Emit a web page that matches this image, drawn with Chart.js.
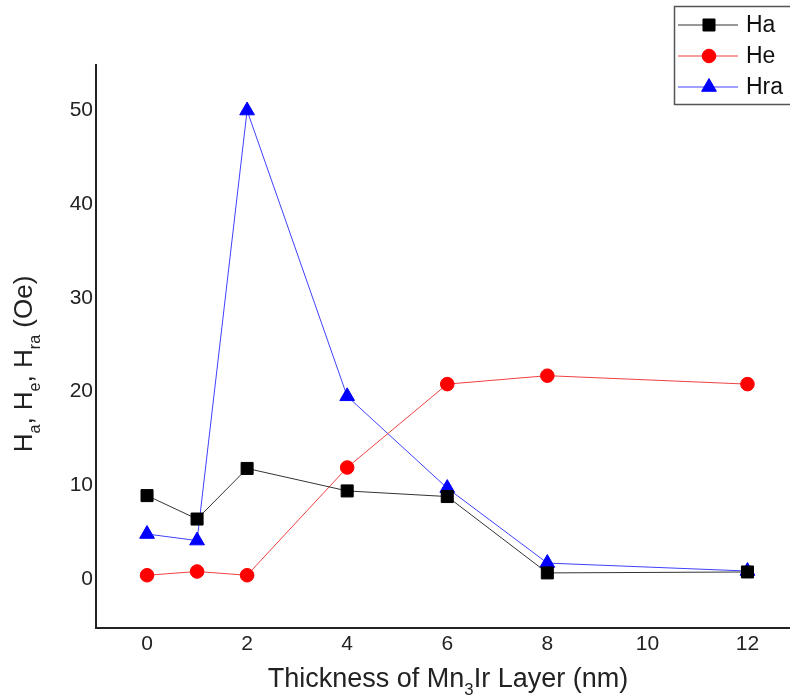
<!DOCTYPE html>
<html>
<head>
<meta charset="utf-8">
<script src="https://cdn.jsdelivr.net/npm/chart.js@4/dist/chart.umd.min.js"></script>
<style>
  html, body { margin: 0; padding: 0; background: #fff; }
  #wrap { width: 790px; height: 698px; position: relative; }
</style>
</head>
<body>
<div id="wrap"><canvas id="chart"></canvas></div>
<script>
// Mn3Ir thickness (nm) and the three fields (Oe)
const thickness = [0, 1, 2, 4, 6, 8, 12];
const haValues  = [8.9, 6.4, 11.8, 9.4, 8.8, 0.65, 0.75];
const heValues  = [0.4, 0.8, 0.4, 11.9, 20.8, 21.7, 20.8];
const hraValues = [4.8, 4.1, 50, 19.5, 9.7, 1.7, 0.85];

const xTicks = [0, 2, 4, 6, 8, 10, 12];
const yTicks = [0, 10, 20, 30, 40, 50];

const FONT = '"Liberation Sans", Arial, sans-serif';

const series = [
  { label: 'Ha',  values: haValues,  color: '#000000', line: '#333333', style: 'rect',     radius: 8.5 },
  { label: 'He',  values: heValues,  color: '#ff0000', line: '#f04040', style: 'circle',   radius: 6.8 },
  { label: 'Hra', values: hraValues, color: '#0000ff', line: '#4040ff', style: 'triangle', radius: 8.5 }
];

// text runs: [string, isSubscript]
function drawRuns(ctx, runs, size, cx, cy) {
  const sub = size * 0.62;
  let total = 0;
  runs.forEach(([t, s]) => {
    ctx.font = (s ? sub : size) + 'px ' + FONT;
    total += ctx.measureText(t).width;
  });
  let x = cx - total / 2;
  ctx.textAlign = 'left';
  ctx.textBaseline = 'alphabetic';
  runs.forEach(([t, s]) => {
    ctx.font = (s ? sub : size) + 'px ' + FONT;
    ctx.fillText(t, x, cy + (s ? size * 0.3 : 0));
    x += ctx.measureText(t).width;
  });
}

const axisTitles = {
  id: 'axisTitles',
  afterDraw(chart) {
    const ctx = chart.ctx;
    ctx.save();
    ctx.fillStyle = '#222';
    drawRuns(ctx, [['Thickness of Mn', false], ['3', true], ['Ir Layer (nm)', false]], 27, 448, 687);
    ctx.translate(32, 364);
    ctx.rotate(-Math.PI / 2);
    drawRuns(ctx, [['H', false], ['a', true], [', H', false], ['e', true], [', H', false], ['ra', true], [' (Oe)', false]], 26, 0, 0);
    ctx.restore();
  }
};

const boxLegend = {
  id: 'boxLegend',
  afterDraw(chart) {
    const ctx = chart.ctx;
    ctx.save();
    ctx.fillStyle = '#fff';
    ctx.fillRect(674, 6, 130, 99);
    ctx.strokeStyle = '#555';
    ctx.lineWidth = 1.5;
    ctx.strokeRect(674.5, 6.5, 130, 98);
    const rows = [25, 56, 87];
    series.forEach((s, i) => {
      const y = rows[i];
      ctx.strokeStyle = s.line;
      ctx.lineWidth = 1;
      ctx.beginPath();
      ctx.moveTo(678, y);
      ctx.lineTo(738, y);
      ctx.stroke();
      ctx.fillStyle = s.color;
      ctx.strokeStyle = s.color;
      Chart.helpers.drawPoint(ctx, { pointStyle: s.style, radius: s.radius, rotation: 0, borderWidth: 1 }, 709, y);
      ctx.fillStyle = '#111';
      ctx.font = '23px ' + FONT;
      ctx.textAlign = 'left';
      ctx.textBaseline = 'middle';
      ctx.fillText(s.label, 746, y + 1);
    });
    ctx.restore();
  }
};

new Chart(document.getElementById('chart'), {
  type: 'line',
  data: {
    datasets: series.map(s => ({
      label: s.label,
      data: thickness.map((t, i) => ({ x: t, y: s.values[i] })),
      borderColor: s.line,
      backgroundColor: s.color,
      pointBackgroundColor: s.color,
      pointBorderColor: s.color,
      pointStyle: s.style,
      pointRadius: s.radius,
      pointHoverRadius: s.radius,
      borderWidth: 1,
      tension: 0,
      fill: false
    }))
  },
  options: {
    responsive: true,
    maintainAspectRatio: false,
    animation: false,
    layout: { autoPadding: false, padding: { top: 65, right: 0, left: 0, bottom: 0 } },
    plugins: { legend: { display: false }, tooltip: { enabled: false } },
    scales: {
      x: {
        type: 'linear',
        min: -1.02,
        max: 12.85,
        afterBuildTicks: axis => { axis.ticks = xTicks.map(v => ({ value: v })); },
        afterFit: axis => { axis.height = 70; },
        grid: { display: false, drawTicks: false },
        border: { display: true, color: '#222', width: 2 },
        ticks: { color: '#222', font: { family: FONT, size: 21 }, padding: 4, maxRotation: 0 }
      },
      y: {
        min: -5.23,
        max: 54.86,
        afterBuildTicks: axis => { axis.ticks = yTicks.map(v => ({ value: v })); },
        afterFit: axis => { axis.width = 96; },
        grid: { display: false, drawTicks: false },
        border: { display: true, color: '#222', width: 2 },
        ticks: { color: '#222', font: { family: FONT, size: 21 }, padding: 3 }
      }
    }
  },
  plugins: [axisTitles, boxLegend]
});
</script>
</body>
</html>
